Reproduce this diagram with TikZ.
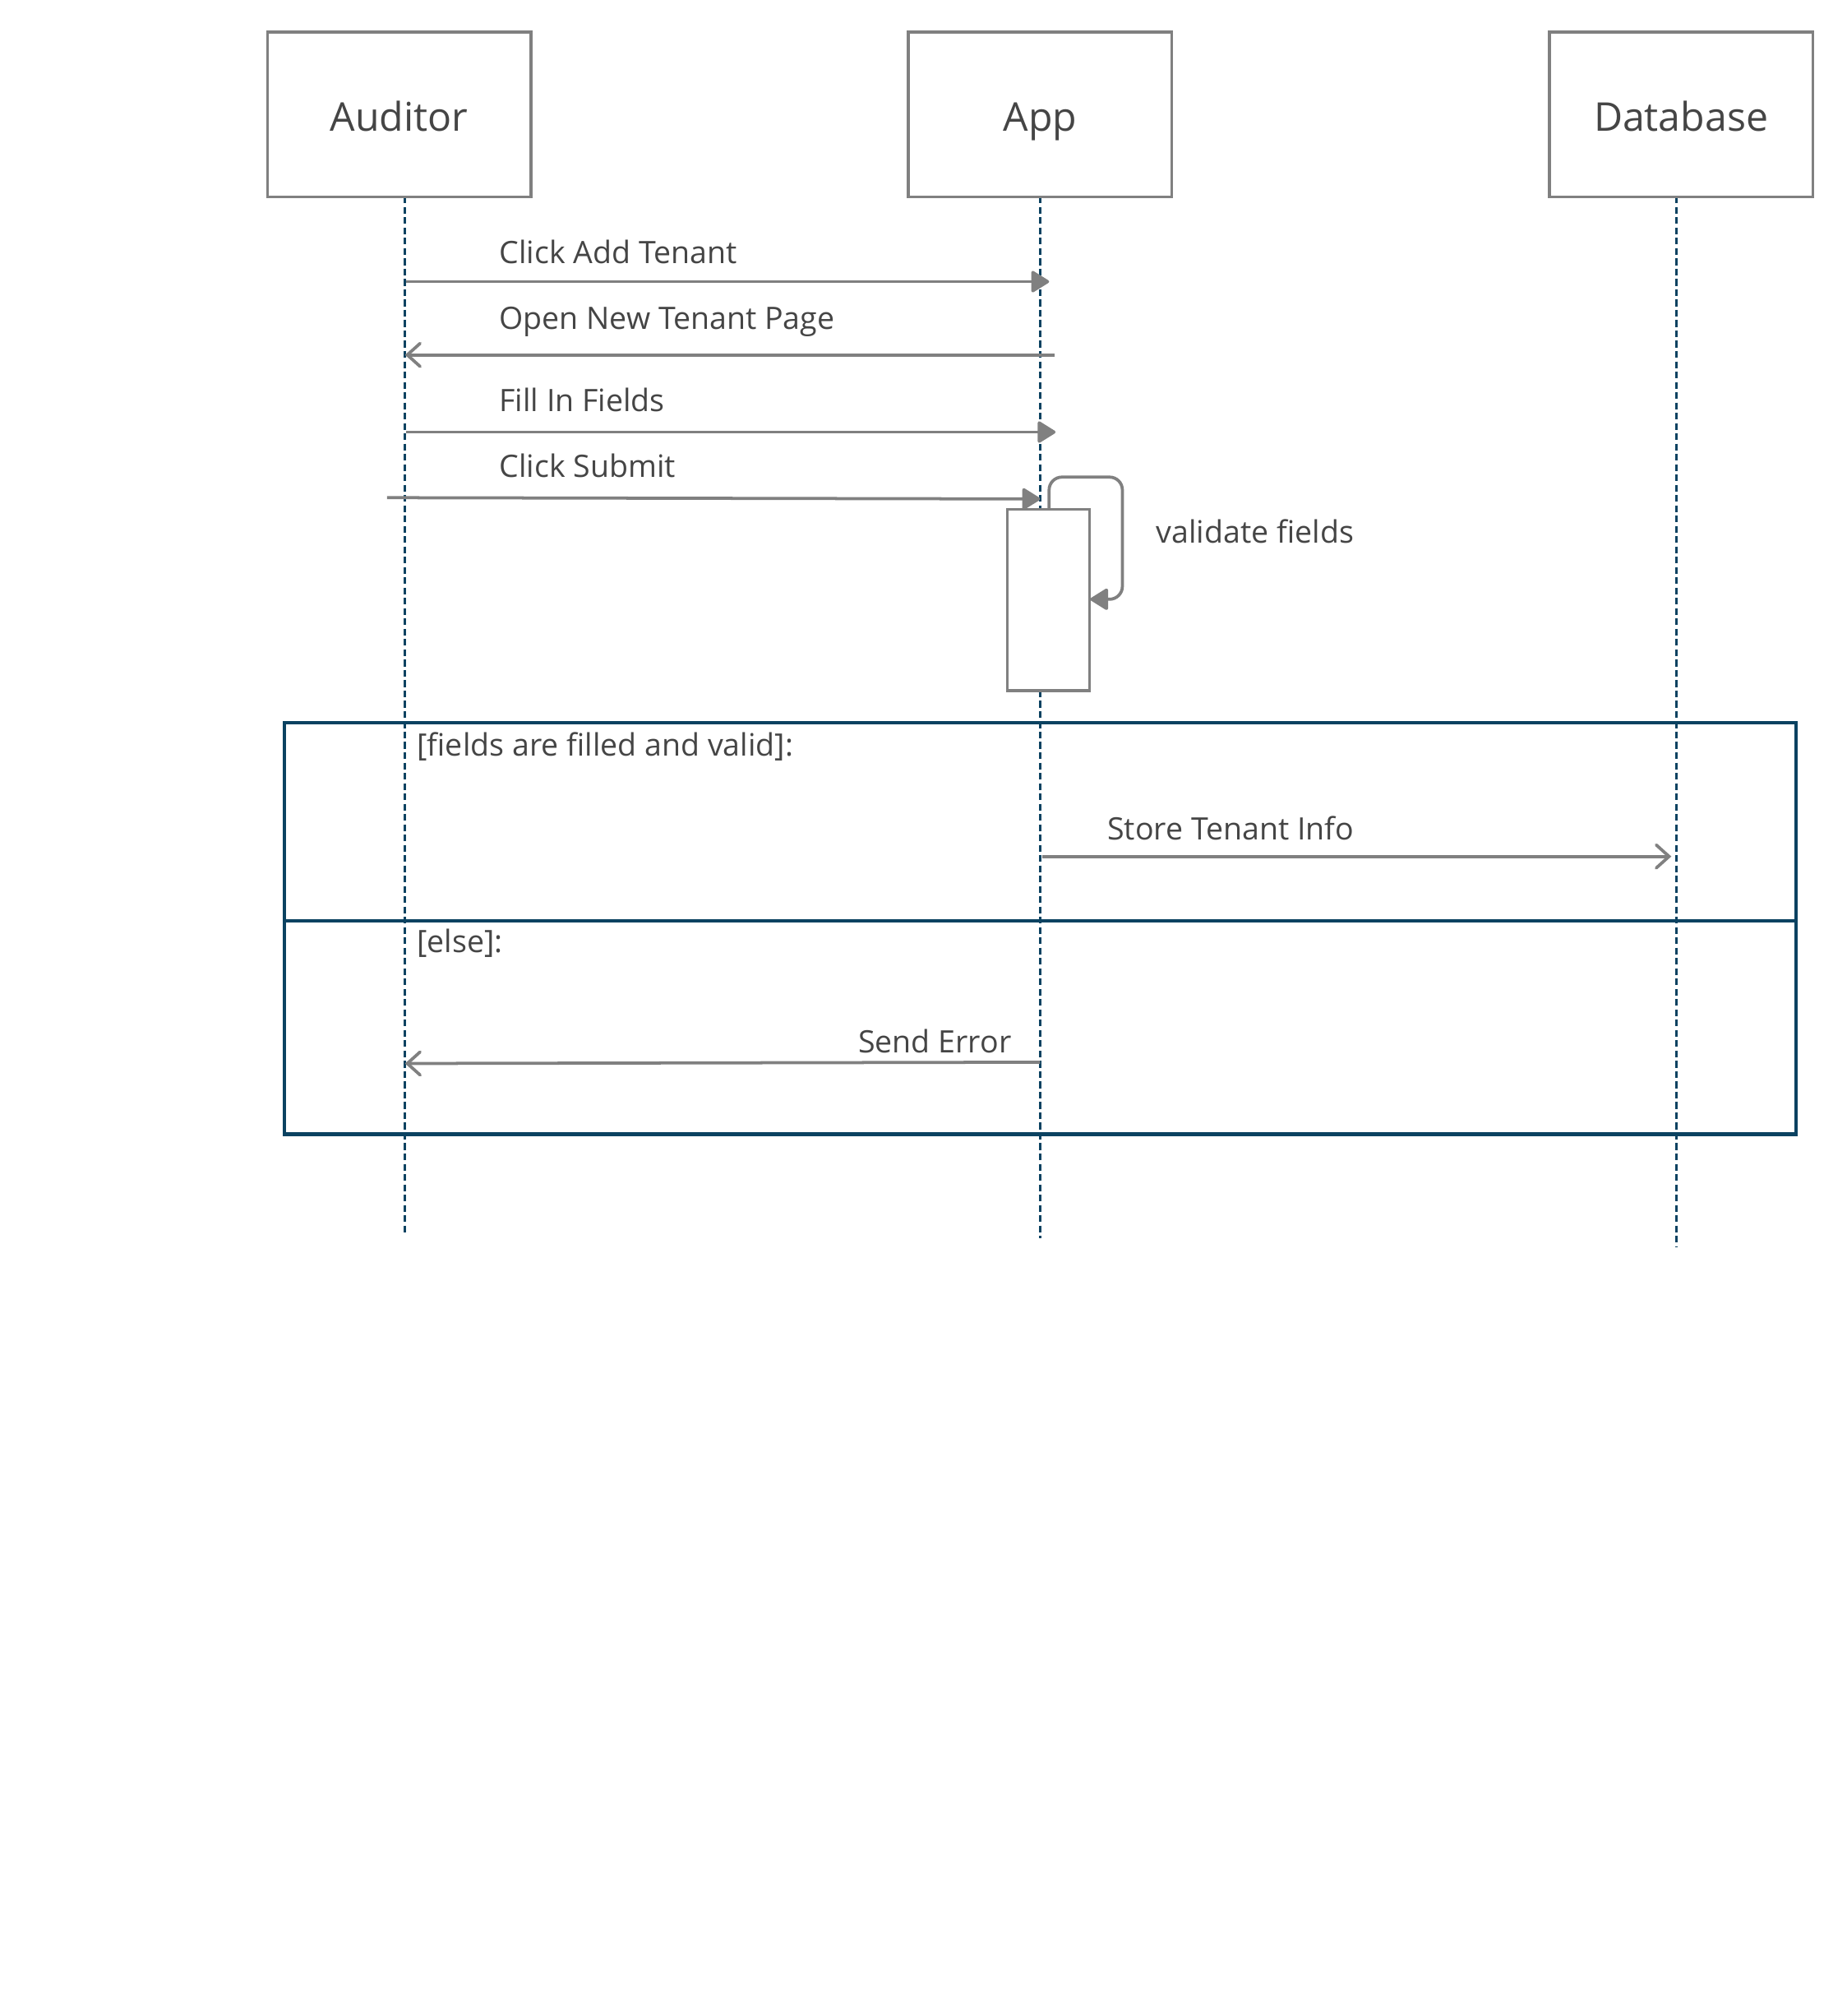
\documentclass[tikz,border=0pt]{standalone}
\usepackage{fontspec}
\setmainfont{Open Sans}
\usetikzlibrary{arrows.meta}
\definecolor{boxgray}{HTML}{808080}
\definecolor{txtgray}{HTML}{454545}
\definecolor{lifeblue}{HTML}{0B4261}
\tikzset{
  actorbox/.style={draw=boxgray, line width=1.15pt, fill=white, minimum width=102.5pt, minimum height=64pt, inner sep=0pt},
  actortext/.style={anchor=base, text=txtgray, font=\fontsize{15.4pt}{18pt}\selectfont, inner sep=0pt},
  msgtext/.style={anchor=base west, text=txtgray, font=\fontsize{12pt}{14pt}\selectfont, inner sep=0pt},
  lifeline/.style={draw=lifeblue, line width=1pt, dash pattern=on 2.6pt off 1.4pt},
  syncmsg/.style={draw=boxgray, line width=1.2pt, -{Triangle[length=7.5pt,width=9pt,round]}},
  replymsg/.style={draw=boxgray, line width=1.2pt, -{Straight Barb[length=5pt,width=9pt,line cap=round]}},
  activation/.style={draw=boxgray, line width=1.15pt, fill=white},
  framebox/.style={draw=lifeblue, line width=1.3pt},
}
\begin{document}
\begin{tikzpicture}[x=0.5pt, y=-0.5pt]
\useasboundingbox (0,0) rectangle (1436,1567.7);
\fill[white] (0,0) rectangle (1436,1567.7);

% lifelines
\coordinate (audTop) at (315,153);
\coordinate (audBot) at (315,960);
\coordinate (appTop) at (809,153);
\coordinate (appBot) at (809,963);
\coordinate (dbTop) at (1304,153);
\coordinate (dbBot) at (1304,970);
\draw[lifeline] (audTop) -- (audBot);
\draw[lifeline] (appTop) -- (appBot);
\draw[lifeline] (dbTop) -- (dbBot);

% actor boxes
\node[actorbox] (aud) at (310.5,89) {};
\node[actorbox] (app) at (809,89) {};
\node[actorbox] (db) at (1307.5,89) {};
\node[actortext] (audT) at (310.5,102) {Auditor};
\node[actortext] (appT) at (809,102) {App};
\node[actortext] (dbT) at (1307.5,102) {Database};

% messages
\coordinate (m1a) at (316,219); \coordinate (m1b) at (816,219);
\draw[syncmsg] (m1a) -- (m1b);
\node[msgtext] (m1t) at (388,205) {Click Add Tenant};

\coordinate (m2a) at (820,276); \coordinate (m2b) at (315,276);
\draw[replymsg] (m2a) -- (m2b);
\node[msgtext] (m2t) at (388,256) {Open New Tenant Page};

\coordinate (m3a) at (316,336); \coordinate (m3b) at (821,336);
\draw[syncmsg] (m3a) -- (m3b);
\node[msgtext] (m3t) at (388,320) {Fill In Fields};

\coordinate (m4a) at (301,387); \coordinate (m4b) at (809,388);
\draw[syncmsg] (m4a) -- (m4b);
\node[msgtext] (m4t) at (388,371) {Click Submit};

% activation
\node[activation, minimum width=32pt, minimum height=70.5pt, inner sep=0pt] (act) at (815.5,466.5) {};

% self loop
\coordinate (sl0) at (816,396);
\coordinate (sl1) at (848,466);
\draw[syncmsg, rounded corners=5pt] (sl0) -- (816,371) -- (873,371) -- (873,466) -- (sl1);
\node[msgtext] (slt) at (899,422) {validate fields};

% alt frame
\node[framebox, minimum width=588pt, minimum height=160pt, inner sep=0pt] (alt) at (809,722) {};
\coordinate (divL) at (221,716); \coordinate (divR) at (1397,716);
\draw[framebox] (divL) -- (divR);
\node[msgtext] (g1) at (324,588) {[fields are filled and valid]:};
\node[msgtext] (g2) at (324,741) {[else]:};

\coordinate (m5a) at (811,666); \coordinate (m5b) at (1300,666);
\draw[replymsg] (m5a) -- (m5b);
\node[msgtext] (m5t) at (861,653) {Store Tenant Info};

\coordinate (m6a) at (809,826); \coordinate (m6b) at (315,827);
\draw[replymsg] (m6a) -- (m6b);
\node[msgtext, anchor=base east] (m6t) at (787,819) {Send Error};
\end{tikzpicture}
\end{document}
